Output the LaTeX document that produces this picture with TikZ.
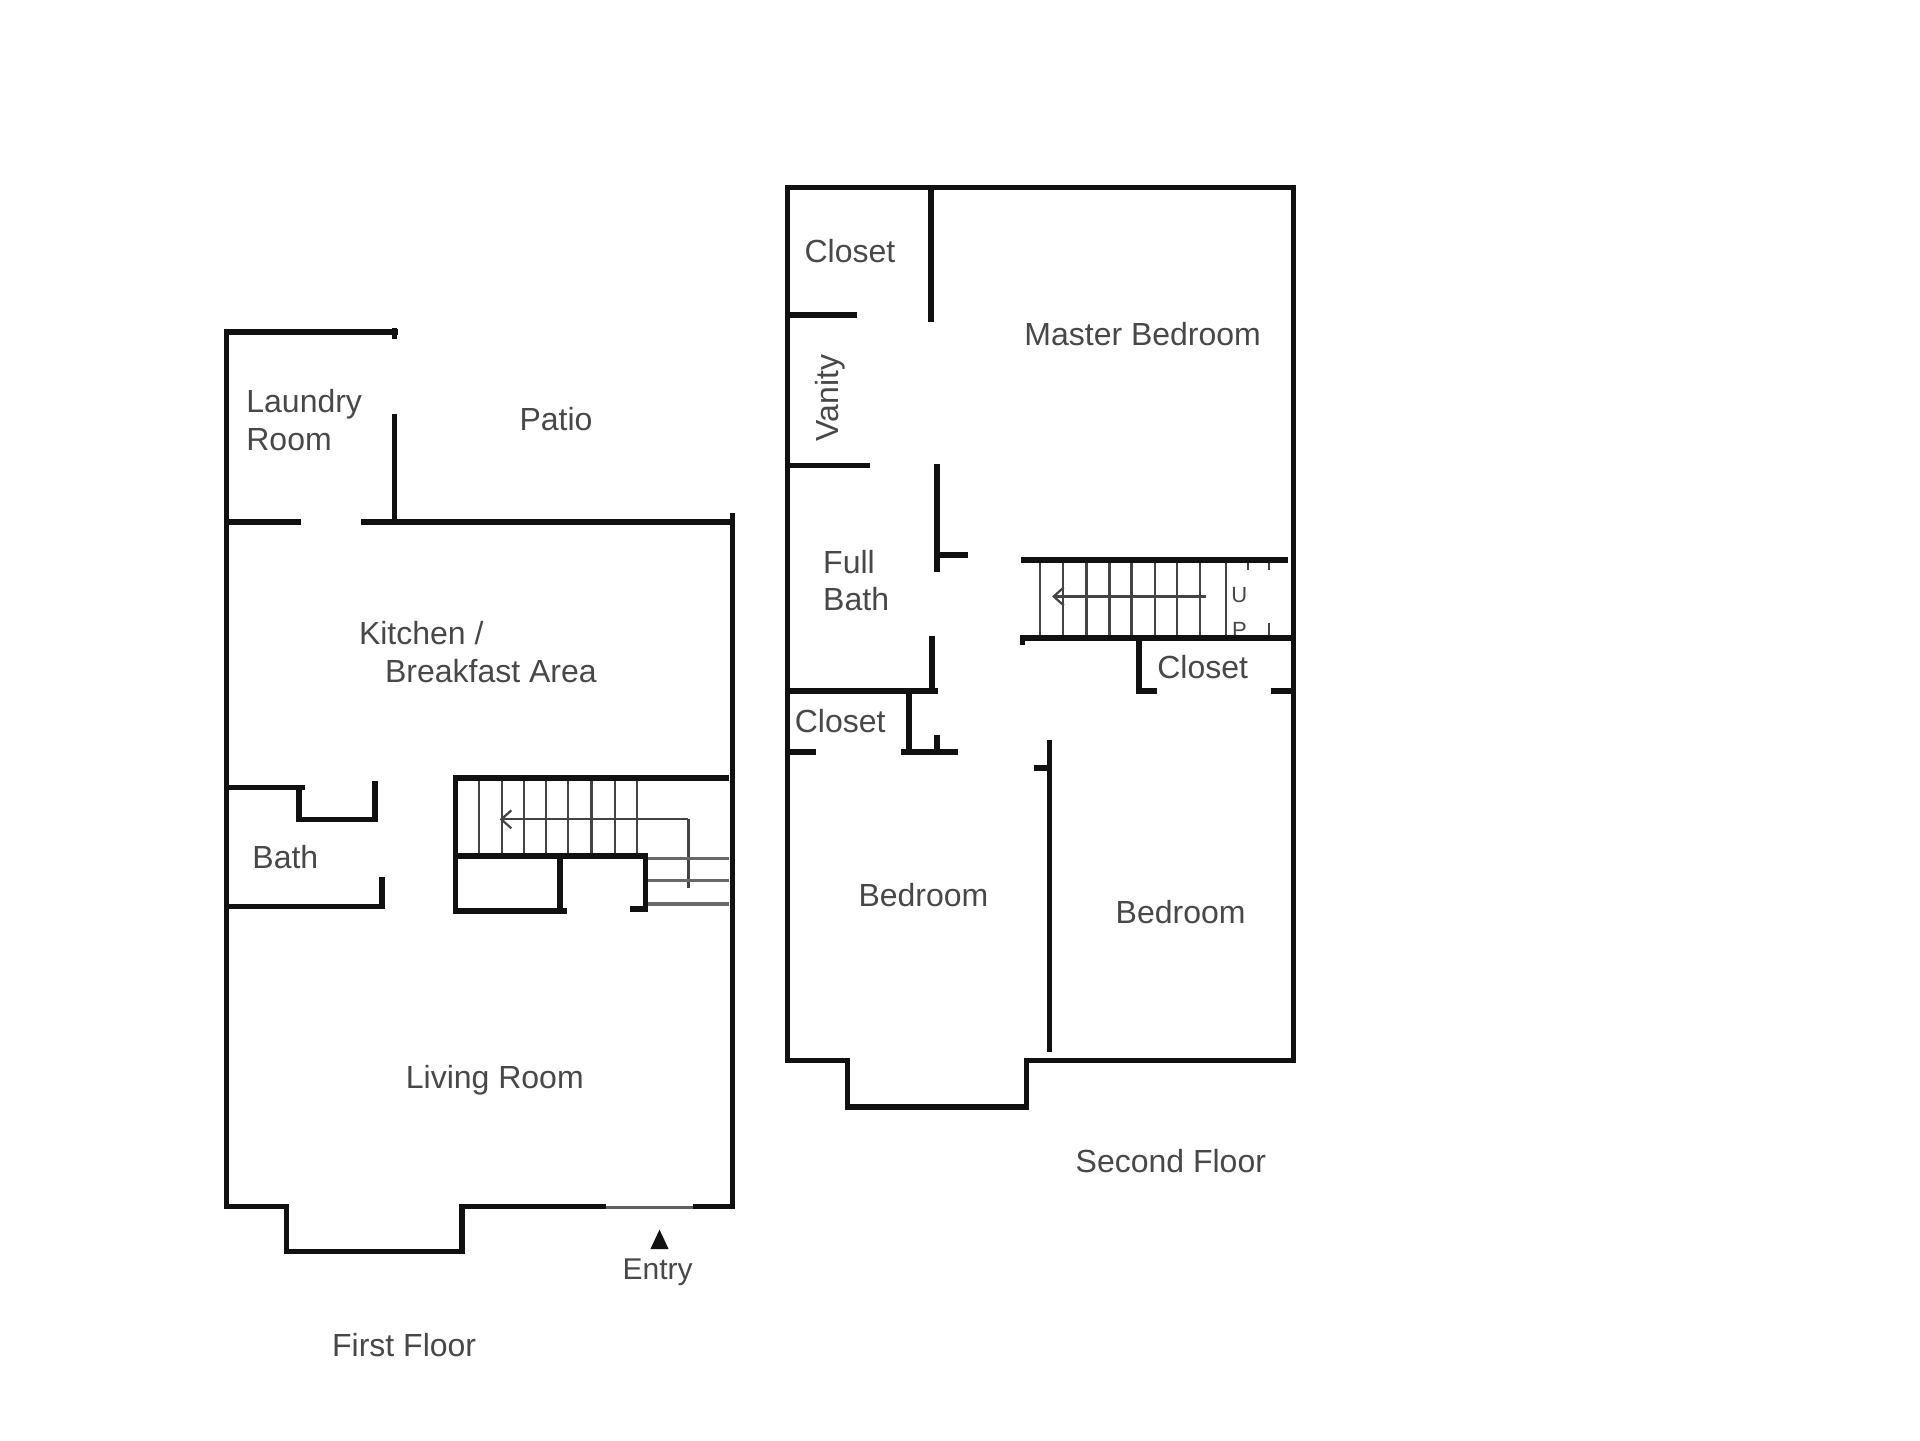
\documentclass[tikz,border=0pt]{standalone}
\usepackage{fontspec}
\setmainfont{Liberation Sans}
\usepackage{xcolor}
\usetikzlibrary{arrows.meta}
\definecolor{wallcolor}{HTML}{111111}
\definecolor{labelcolor}{HTML}{484848}
\definecolor{treadcolor}{HTML}{444444}
\tikzset{
    wall/.style={line width=5.6pt, color=wallcolor, line join=miter},
    tread/.style={line width=2.4pt, color=treadcolor},
    landing/.style={line width=2.4pt, color=treadcolor!80},
    runarrow/.style={line width=2.2pt, color=treadcolor, -{Straight Barb[length=10pt,width=18pt]}},
    roomlabel/.style={text=labelcolor, font=\fontsize{32}{37.7}\selectfont, inner sep=0pt, align=left}
}
\begin{document}
\begin{tikzpicture}[x=1.2247pt, y=-1.2247pt]
    \useasboundingbox (0,0) rectangle (1567.7,1175.8);

    % First floor: outer walls
    \draw[wall] (325,271) -- (185,271) -- (185,985) -- (234,985) -- (234,1022) -- (377,1022) -- (377,985) -- (495,985);
    \draw[wall] (566,985) -- (598,985) -- (598,419);
    \draw[landing, color=treadcolor!85] (495,986) -- (566,986);
    % Laundry walls
    \draw[wall] (322,268) -- (322,277);
    \draw[wall] (322,338) -- (322,426);
    \draw[wall] (185,426) -- (246,426);
    \draw[wall] (295,426) -- (598,426);
    % Bath walls
    \draw[wall] (185,643) -- (249,643);
    \draw[wall] (244,643) -- (244,669) -- (306,669) -- (306,638);
    \draw[wall] (185,740) -- (312,740) -- (312,716);

    % First floor stairs
    \foreach \x in {391,410,428,446,464,483,502,520}
        \draw[tread] (\x,635) -- (\x,699);
    \draw[tread] (562,725) -- (562,669);
    \draw[runarrow] (562,669) -- (408,669);
    \foreach \y in {701,719}
        \draw[landing] (528,\y) -- (595,\y);
    \draw[landing, line width=3.5pt] (528,738) -- (595,738);
    \draw[wall] (595,635) -- (372,635) -- (372,744) -- (463,744);
    \draw[wall] (372,699) -- (527,699) -- (527,742) -- (514,742);
    \draw[wall] (457,699) -- (457,744);

    % Entry arrow
    \fill[wallcolor] (531,1020) -- (538.5,1004) -- (546,1020) -- cycle;

    % Second floor: outer walls
    \draw[wall] (643,153) -- (1056,153) -- (1056,866) -- (838,866) -- (838,904) -- (692,904) -- (692,866) -- (643,866) -- cycle;
    % Closet, vanity and bath walls
    \draw[wall] (760,153) -- (760,263);
    \draw[wall] (643,257) -- (700,257);
    \draw[wall] (643,380) -- (710,380);
    \draw[wall] (765,379) -- (765,467);
    \draw[wall] (765,453) -- (790,453);
    \draw[wall] (761,519) -- (761,567);
    \draw[wall] (643,564) -- (766,564);
    \draw[wall] (742,564) -- (742,614);
    \draw[wall] (736,614) -- (782,614);
    \draw[wall] (765,600) -- (765,614);
    \draw[wall] (643,614) -- (666,614);
    % Bedroom walls
    \draw[wall] (857,604) -- (857,859);
    \draw[wall] (844,627) -- (857,627);

    % Second floor stairs
    \foreach \x in {849,868,887,906,924,943,961,980,1001}
        \draw[tread] (\x,457) -- (\x,521);
    \draw[runarrow] (985,487) -- (859,487);
    \foreach \x in {1019,1036}
        \draw[tread] (\x,457) -- (\x,465);
    \draw[tread] (1036,509) -- (1036,521);
    \node[roomlabel, font=\fontsize{22}{26}\selectfont] (upu) at (1012,486) {U};
    \begin{scope}
        \clip (990,500) rectangle (1030,520);
        \node[roomlabel, font=\fontsize{22}{26}\selectfont] (upp) at (1012,514) {P};
    \end{scope}
    \draw[wall] (834,457) -- (1052,457);
    \draw[wall] (835,527) -- (835,521) -- (1056,521);
    \draw[wall] (930,521) -- (930,564) -- (945,564);
    \draw[wall] (1038,564) -- (1056,564);

    % First floor labels
    \node[roomlabel, anchor=west] (laundry) at (201,343) {Laundry\\Room};
    \node[roomlabel] (patio) at (454,342) {Patio};
    \node[roomlabel, anchor=west] (kitchen) at (293,532.5) {Kitchen /\\\hspace*{26pt}Breakfast Area};
    \node[roomlabel] (bath) at (233,700) {Bath};
    \node[roomlabel] (living) at (404,882) {Living Room};
    \node[roomlabel, font=\fontsize{30}{36}\selectfont] (entry) at (537,1039) {Entry};
    \node[roomlabel] (firstfloor) at (330,1098) {First Floor};

    % Second floor labels
    \node[roomlabel] (closeta) at (694,205) {Closet};
    \node[roomlabel] (master) at (933,273) {Master Bedroom};
    \node[roomlabel, rotate=90] (vanity) at (678,325) {Vanity};
    \node[roomlabel, anchor=west] (fullbath) at (672,474) {Full\\Bath};
    \node[roomlabel] (closetb) at (686,589) {Closet};
    \node[roomlabel] (closetc) at (982,545) {Closet};
    \node[roomlabel] (bedrooma) at (754,731) {Bedroom};
    \node[roomlabel] (bedroomb) at (964,745) {Bedroom};
    \node[roomlabel] (secondfloor) at (956,948) {Second Floor};
\end{tikzpicture}
\end{document}
